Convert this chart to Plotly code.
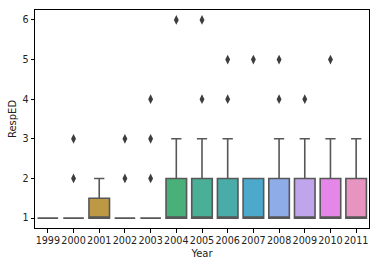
import plotly.graph_objects as go

years = ["1999", "2000", "2001", "2002", "2003", "2004", "2005",
         "2006", "2007", "2008", "2009", "2010", "2011"]
q1 = [1, 1, 1, 1, 1, 1, 1, 1, 1, 1, 1, 1, 1]
median = [1, 1, 1, 1, 1, 1, 1, 1, 1, 1, 1, 1, 1]
q3 = [1, 1, 1.5, 1, 1, 2, 2, 2, 2, 2, 2, 2, 2]
lowerfence = [1, 1, 1, 1, 1, 1, 1, 1, 1, 1, 1, 1, 1]
upperfence = [1, 1, 2, 1, 1, 3, 3, 3, 2, 3, 3, 3, 3]
outliers = [[], [2, 3], [], [2, 3], [2, 3, 4], [6], [4, 6],
            [4, 5], [5], [4, 5], [4], [5], []]
colors = ["#E0868A", "#D2925A", "#BD9945", "#A1A646", "#73AD48", "#48B078",
          "#49AF96", "#49ACA8", "#4CA9CC", "#8EADE8", "#C0A4EC", "#E587E8",
          "#E794C1"]

edge = "#575757"
fig = go.Figure()
for i, y in enumerate(years):
    fig.add_trace(go.Box(
        x=[y], q1=[q1[i]], median=[median[i]], q3=[q3[i]],
        lowerfence=[lowerfence[i]], upperfence=[upperfence[i]],
        fillcolor=colors[i], line=dict(color=edge, width=1.6),
        width=0.8, whiskerwidth=0.5, boxpoints=False, showlegend=False,
    ))
for i, y in enumerate(years):
    if outliers[i]:
        fig.add_trace(go.Scatter(
            x=[y] * len(outliers[i]), y=outliers[i], mode="markers",
            marker=dict(symbol="diamond-tall", size=7, color="#3d3d3d",
                        line=dict(width=0)),
            showlegend=False,
        ))

axis_common = dict(showline=True, linecolor="black", linewidth=1, mirror=True,
                   ticks="outside", ticklen=3.5, tickcolor="black",
                   showgrid=False, zeroline=False,
                   tickfont=dict(family="DejaVu Sans", size=9.6, color="#222"))
fig.update_layout(
    width=380, height=266, plot_bgcolor="white", paper_bgcolor="white",
    margin=dict(l=35, r=11, t=10, b=38, autoexpand=False),
    font=dict(family="DejaVu Sans", size=10, color="#222"),
    xaxis=dict(title=dict(text="Year", standoff=4, font=dict(size=10)),
               type="category", categoryorder="array", categoryarray=years,
               range=[-0.5, 12.5], tickangle=0, automargin=False, **axis_common),
    yaxis=dict(title=dict(text="RespED", standoff=3, font=dict(size=10)),
               range=[0.75, 6.25], tickvals=[1, 2, 3, 4, 5, 6],
               automargin=False, **axis_common),
)
fig.write_html("out.html")
